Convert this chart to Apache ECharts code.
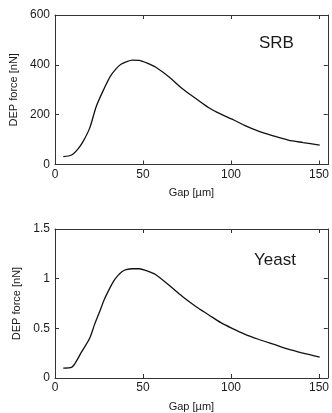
<!DOCTYPE html>
<html><head><meta charset="utf-8">
<script src="https://cdn.jsdelivr.net/npm/echarts@6/dist/echarts.min.js"></script>
<style>html,body{margin:0;padding:0;background:#fff}#c{width:332px;height:413px}</style>
</head><body><div id="c"></div>
<script>
const gapSRB = [4.7, 9.4, 13, 16, 19.7, 23.5, 28.2, 31.5, 34.8, 37.5, 40.4, 44, 47.9, 52, 57.3, 65, 72.4, 80, 87.4, 94, 100.6, 108, 115.6, 124, 132.5, 141, 150.4];
const forceSRB = [32, 38, 62, 93, 146, 234, 309, 355, 385, 402, 412, 419, 418, 408, 390, 350, 304, 265, 228, 203, 182, 156, 134, 115, 98, 88, 78];
const gapYeast = [4.7, 9.6, 12.5, 15, 19.7, 22.5, 25.4, 28, 31, 33.5, 35.7, 38, 40.4, 44, 47.9, 52, 57.3, 65, 72.4, 80, 87.4, 94, 100.6, 108, 115.6, 124, 132.5, 141, 150.4];
const forceYeast = [0.10, 0.11, 0.18, 0.26, 0.40, 0.54, 0.67, 0.79, 0.90, 0.98, 1.03, 1.07, 1.09, 1.10, 1.10, 1.08, 1.04, 0.93, 0.82, 0.72, 0.635, 0.56, 0.50, 0.44, 0.39, 0.34, 0.29, 0.25, 0.21];
const xTicks = [0, 50, 100, 150];
const yTicksSRB = [0, 200, 400, 600];
const yTicksYeast = [0, 0.5, 1, 1.5];

const chart = echarts.init(document.getElementById('c'));
const txt = '#1a1a1a';
const font = 'Liberation Sans, Arial, sans-serif';
function xAx(gi, pos, show) {
  return {
    type: 'value', gridIndex: gi, position: pos, min: 0, max: 155, interval: 50,
    axisLine: {show: true, onZero: false, lineStyle: {color: '#333', width: 1}},
    axisTick: {show: true, inside: true, length: 4, lineStyle: {color: '#333'}},
    splitLine: {show: false},
    axisLabel: {show: show, color: txt, fontSize: 12, fontFamily: font, margin: 4,
      formatter: v => xTicks.includes(v) ? String(v) : ''},
    name: show ? 'Gap [µm]' : '', nameLocation: 'middle', nameGap: 23,
    nameTextStyle: {color: txt, fontSize: 11, fontFamily: font}
  };
}
function yAx(gi, pos, show, ticks) {
  return {
    type: 'value', gridIndex: gi, position: pos, min: ticks[0], max: ticks[ticks.length - 1],
    interval: ticks[1] - ticks[0],
    axisLine: {show: true, onZero: false, lineStyle: {color: '#333', width: 1}},
    axisTick: {show: true, inside: true, length: 4, lineStyle: {color: '#333'}},
    splitLine: {show: false},
    axisLabel: {show: show, color: txt, fontSize: 12, fontFamily: font, margin: 5},
    name: show ? 'DEP force [nN]' : '', nameLocation: 'middle', nameGap: 26,
    nameTextStyle: {color: txt, fontSize: 11, fontFamily: font}
  };
}
chart.setOption({
  animation: false,
  backgroundColor: '#fff',
  grid: [
    {left: 55, top: 15, width: 276, height: 149.5},
    {left: 55, top: 229, width: 276, height: 152}
  ],
  xAxis: [xAx(0, 'bottom', true), xAx(0, 'top', false), xAx(1, 'bottom', true), xAx(1, 'top', false)],
  yAxis: [yAx(0, 'left', true, yTicksSRB), yAx(0, 'right', false, yTicksSRB), yAx(1, 'left', true, yTicksYeast), yAx(1, 'right', false, yTicksYeast)],
  graphic: [
    {type: 'text', left: 259, top: 35, style: {text: 'SRB', font: '17px ' + font, fill: txt}},
    {type: 'text', left: 254, top: 252, style: {text: 'Yeast', font: '17px ' + font, fill: txt}}
  ],
  series: [
    {type: 'line', xAxisIndex: 0, yAxisIndex: 0, data: gapSRB.map((g, i) => [g, forceSRB[i]]),
      smooth: 0.3, showSymbol: false, lineStyle: {color: '#111', width: 1.3}},
    {type: 'line', xAxisIndex: 2, yAxisIndex: 2, data: gapYeast.map((g, i) => [g, forceYeast[i]]),
      smooth: 0.3, showSymbol: false, lineStyle: {color: '#111', width: 1.3}}
  ]
});
</script></body></html>
